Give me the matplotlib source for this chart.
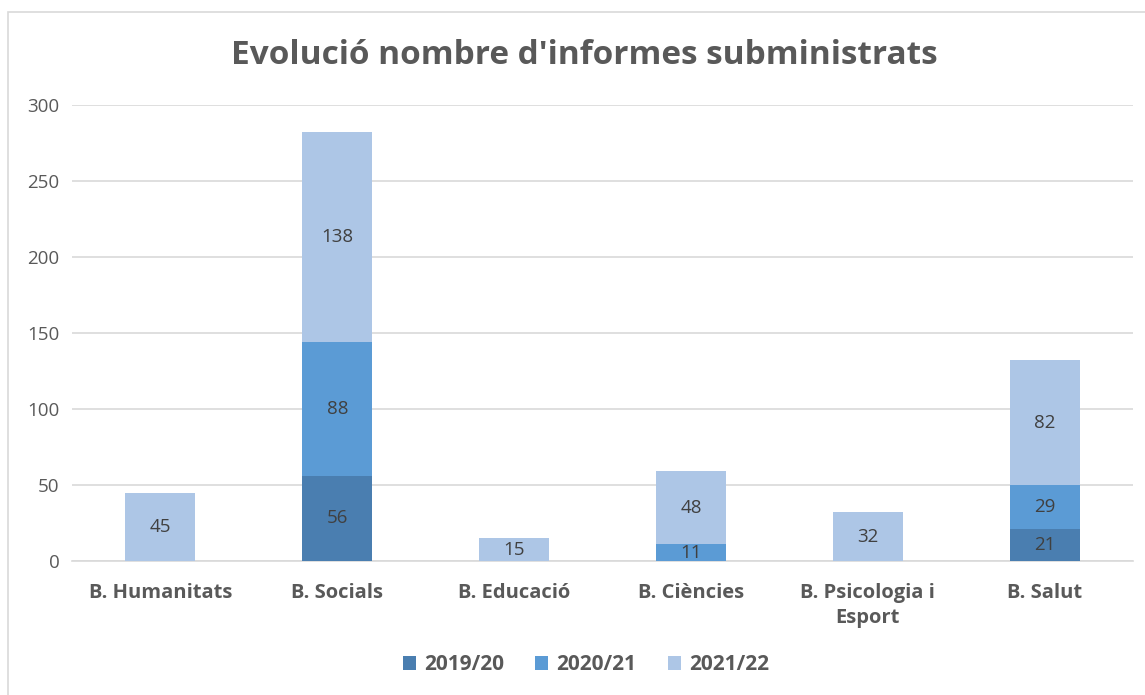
import matplotlib
matplotlib.use("Agg")
import matplotlib.pyplot as plt
from matplotlib.patches import Rectangle
import numpy as np

categories = ["B. Humanitats", "B. Socials", "B. Educació", "B. Ciències", "B. Psicologia i\nEsport", "B. Salut"]
series_names = ["2019/20", "2020/21", "2021/22"]
v2019 = [0, 56, 0, 0, 0, 21]
v2020 = [0, 88, 0, 11, 0, 29]
v2021 = [45, 138, 15, 48, 32, 82]
yticks = [0, 50, 100, 150, 200, 250, 300]
colors = ["#4a7eb0", "#5b9bd5", "#adc6e6"]

plt.rcParams['font.family'] = ['Open Sans', 'DejaVu Sans']
txt = "#595959"

fig = plt.figure(figsize=(11.45, 6.95), dpi=100)
fig.patches.append(Rectangle((8/1145, -20/695), 1200/1145, (683+20)/695, transform=fig.transFigure,
                             fill=False, edgecolor="#d9d9d9", linewidth=1.2))
ax = fig.add_axes([72/1145, 1-561/695, 1061/1145, 456/695])

x = np.arange(len(categories))
bottom = np.zeros(len(categories))
for name, vals, c in zip(series_names, [v2019, v2020, v2021], colors):
    vals = np.array(vals, dtype=float)
    ax.bar(x, vals, 0.396, bottom=bottom, color=c, label=name, zorder=3)
    for xi, b, v in zip(x, bottom, vals):
        if v > 0:
            ax.text(xi, b + v/2, f"{int(v)}", ha="center", va="center", fontsize=13.5, color="#404040", zorder=4)
    bottom += vals

ax.set_xlim(-0.5, len(categories)-0.5)
ax.set_ylim(0, 300)
ax.set_yticks(yticks)
ax.yaxis.grid(True, color="#d9d9d9", linewidth=1.2, zorder=0)
for s in ["top", "right", "left"]:
    ax.spines[s].set_visible(False)
ax.spines["bottom"].set_color("#d9d9d9")
ax.spines["bottom"].set_linewidth(1.2)
ax.tick_params(axis="both", length=0, colors=txt, labelsize=13.5)
ax.tick_params(axis="y", pad=9)
ax.tick_params(axis="x", pad=16)
ax.set_xticks(x)
ax.set_xticklabels(categories, fontweight="bold", fontsize=14.5, color=txt, linespacing=1.35)

fig.text(584.5/1145, 1-55/695, "Evolució nombre d'informes subministrats", ha="center", va="center",
         fontsize=24, fontweight="bold", color=txt)

leg = fig.legend(loc="center", bbox_to_anchor=(586/1145, 1-665/695), ncol=3, frameon=False,
                 prop={"weight": "bold", "size": 15}, handlelength=0.62, handleheight=0.62,
                 columnspacing=1.5, handletextpad=0.4)
for t in leg.get_texts():
    t.set_color(txt)

fig.savefig("out.png", dpi=100)
